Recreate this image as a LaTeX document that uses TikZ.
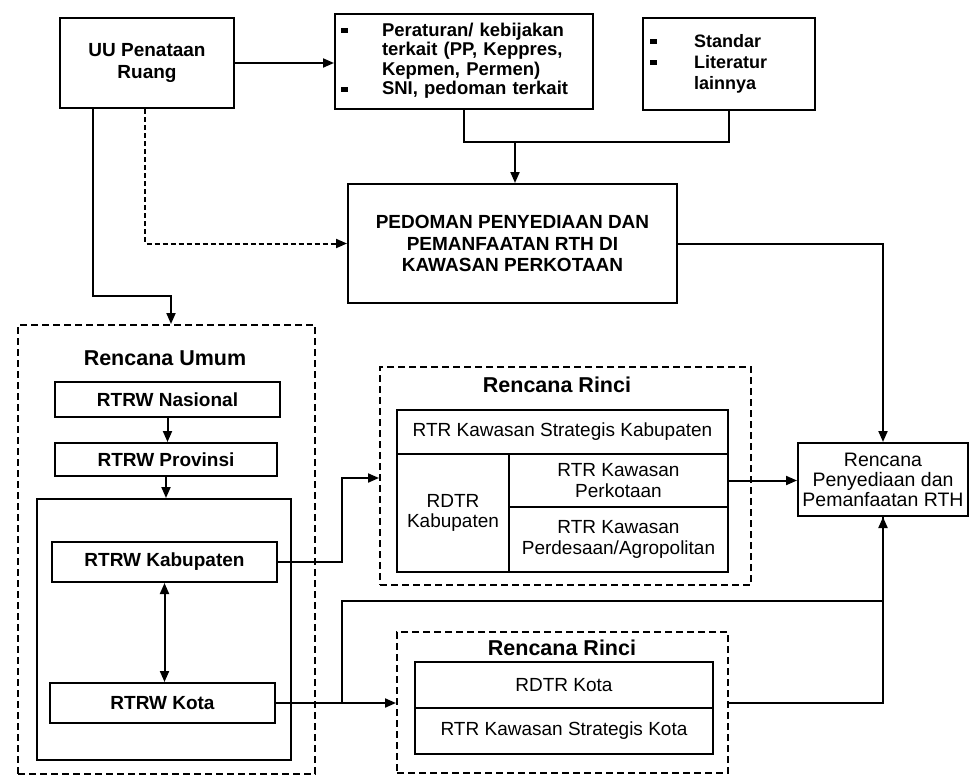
\documentclass[tikz,border=0pt]{standalone}
\usepackage{fontspec}
\setmainfont{Liberation Sans}
\usetikzlibrary{arrows.meta}
\tikzset{
  kotak/.style={draw,line width=2pt,inner sep=2pt,align=center,
    font=\fontsize{19}{20.5}\selectfont},
  kotakb/.style={kotak,font=\fontsize{19}{21.5}\selectfont\bfseries},
  batas/.style={draw,line width=2pt,dash pattern=on 7pt off 4pt},
  ukuran/.style 2 args={minimum width=#1,minimum height=#2},
  judul/.style={font=\fontsize{21.5}{24}\selectfont\bfseries},
  panah/.style={line width=2pt,-{Triangle[length=11pt,width=9pt]}},
  garis/.style={line width=2pt},
}
\newcommand{\blt}{\rule[3pt]{7pt}{5pt}}
\begin{document}
\begin{tikzpicture}[x=1pt,y=-1pt]
\useasboundingbox (0,0) rectangle (970,776);
% kotak atas
\node[kotakb,ukuran={174}{90}] (uu) at (147,63) {UU Penataan\\Ruang};
\node[kotak,ukuran={258}{95},text width=246,align=left,inner sep=6pt,
  font=\fontsize{18.5}{19.5}\selectfont\bfseries] (atur) at (464,61.5)
  {\begin{tabular}{@{}p{7pt}@{\hspace{34pt}}l@{}}
   \blt & Peraturan/ kebijakan\\
        & terkait (PP, Keppres,\\
        & Kepmen, Permen)\\
   \blt & SNI, pedoman terkait
   \end{tabular}};
\node[kotak,ukuran={172}{92},text width=158,align=left,inner sep=7pt,
  font=\fontsize{18}{21}\selectfont\bfseries] (std) at (729,64)
  {\begin{tabular}{@{}p{8pt}@{\hspace{36pt}}l@{}}
   \blt & Standar\\
   \blt & Literatur\\
        & lainnya
   \end{tabular}};
\node[kotakb,ukuran={329}{119}] (ped) at (512.5,243.5)
  {PEDOMAN PENYEDIAAN DAN\\PEMANFAATAN RTH DI\\KAWASAN PERKOTAAN};
\node[kotak,ukuran={170}{73},inner sep=1pt,font=\fontsize{19.5}{20}\selectfont] (rth) at (883,479.5)
  {Rencana\\Penyediaan dan\\Pemanfaatan RTH};
% rencana umum
\node[batas,ukuran={297}{449}] (umum) at (166.5,549.5) {};
\node[judul] (jumum) at (165,358) {Rencana Umum};
\node[kotakb,ukuran={225}{35}] (nas) at (167.5,399.5) {RTRW Nasional};
\node[kotakb,ukuran={222}{33}] (prov) at (166,459.5) {RTRW Provinsi};
\node[kotak,ukuran={254}{261}] (dalam) at (164,629.5) {};
\node[kotakb,ukuran={225}{40}] (kab) at (164.5,562) {RTRW Kabupaten};
\node[kotakb,ukuran={225}{40}] (kota) at (162.5,703) {RTRW Kota};
% rencana rinci kabupaten
\node[batas,ukuran={371}{218}] (rinci1) at (565.5,476) {};
\node[judul] (jrinci1) at (557,385) {Rencana Rinci};
\node[kotak,ukuran={331}{44}] (ksk) at (562.5,432) {RTR Kawasan Strategis Kabupaten};
\node[kotak,ukuran={112}{118}] (rdtrkab) at (453,513) {RDTR\\Kabupaten};
\node[kotak,ukuran={219}{53}] (perkot) at (618.5,480.5) {RTR Kawasan\\Perkotaan};
\node[kotak,ukuran={219}{65}] (perdes) at (618.5,539.5) {RTR Kawasan\\Perdesaan/Agropolitan};
% rencana rinci kota
\node[batas,ukuran={331}{141}] (rinci2) at (562.5,702.5) {};
\node[judul] (jrinci2) at (562,648) {Rencana Rinci};
\node[kotak,ukuran={298}{46}] (rdtrkota) at (564,685) {RDTR Kota};
\node[kotak,ukuran={298}{46}] (kskota) at (564,731) {RTR Kawasan Strategis Kota};
% titik belok
\coordinate (k1) at (93,296);
\coordinate (k2) at (171,296);
\coordinate (k3) at (145,245);
\coordinate (gabung) at (515,142);
\coordinate (k4) at (342,478);
\coordinate (k5) at (342,601);
% panah
\draw[panah] (uu.east) -- (uu.east -| atur.west);
\draw[garis] (atur.south) |- (gabung) -| (std.south);
\draw[panah] (gabung) -- (gabung |- ped.north);
\draw[panah] (uu.south -| k1) -- (k1) -- (k2) -- (k2 |- umum.north);
\draw[panah,dash pattern=on 5pt off 3pt] (uu.south -| k3) |- (ped.west);
\draw[panah] (ped.east) -| (rth.north);
\draw[panah] (nas.south) -- (nas.south |- prov.north);
\draw[panah] (prov.south) -- (prov.south |- dalam.north);
\draw[panah,{Triangle[length=11pt,width=9pt]}-{Triangle[length=11pt,width=9pt]}]
  (kab.south) -- (kab.south |- kota.north);
\draw[panah] (kab.east) -| (k4) -- (k4 -| rinci1.west);
\draw[panah] (perkot.east) -- (perkot.east -| rth.west);
\draw[panah] (kota.east) -- (kota.east -| rinci2.west);
\draw[panah] (kota.east -| k5) -- (k5) -| (rth.south);
\draw[garis] (rinci2.east) -| (rth.south);
\end{tikzpicture}
\end{document}
